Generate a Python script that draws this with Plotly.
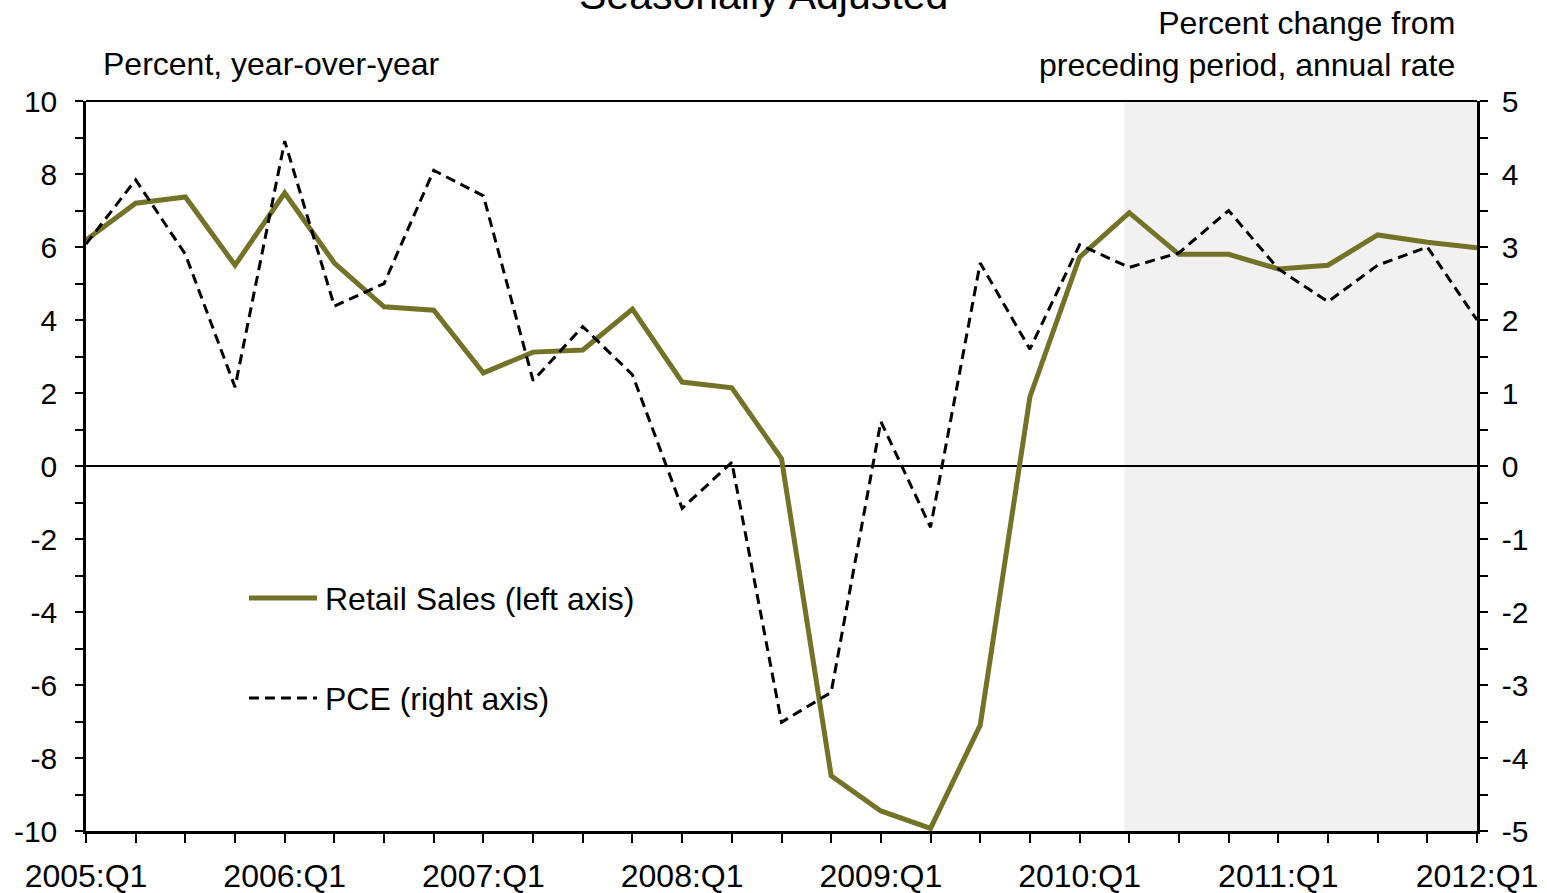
import plotly.graph_objects as go

quarters = [f"{y}:Q{q}" for y in range(2005, 2012) for q in range(1, 5)] + ["2012:Q1"]

retail_sales = [6.19, 7.20, 7.37, 5.50, 7.48, 5.56, 4.36, 4.27,
                2.55, 3.12, 3.18, 4.30, 2.30, 2.14, 0.20, -8.49,
                -9.45, -9.93, -7.10, 1.89, 5.72, 6.94, 5.80, 5.80,
                5.40, 5.50, 6.33, 6.13, 5.98]

pce = [3.04, 3.92, 2.90, 1.08, 4.45, 2.19, 2.50, 4.05,
       3.70, 1.17, 1.91, 1.25, -0.58, 0.05, -3.51, -3.10,
       0.61, -0.84, 2.78, 1.60, 3.03, 2.72, 2.92, 3.50,
       2.70, 2.25, 2.75, 3.00, 2.00]

x_ticktext = [q if q.endswith("Q1") else "" for q in quarters]
left_ticks = [-10, -8, -6, -4, -2, 0, 2, 4, 6, 8, 10]
left_ticktext = ["-10", "-8", "-6", "-4", "-2", "0", "2", "4", "6", "8", "10"]
right_ticks = [-5, -4, -3, -2, -1, 0, 1, 2, 3, 4, 5]
right_ticktext = ["-5", "-4", "-3", "-2", "-1", "0", "1", "2", "3", "4", "5"]

OLIVE = "#737327"
FONT = "Liberation Sans, Arial, sans-serif"

fig = go.Figure()

fig.add_trace(go.Scatter(x=quarters, y=retail_sales, mode="lines",
                         name="Retail Sales (left axis)",
                         line=dict(color=OLIVE, width=5),
                         showlegend=False, yaxis="y"))
fig.add_trace(go.Scatter(x=quarters, y=pce, mode="lines",
                         name="PCE (right axis)",
                         line=dict(color="black", width=3, dash="10px,6px"),
                         showlegend=False, yaxis="y2"))

# shaded projection area
fig.add_shape(type="rect", xref="x", yref="paper", x0=20.9, x1=28, y0=0, y1=1,
              fillcolor="#f1f1f1", line=dict(width=0), layer="below")
# zero line
fig.add_shape(type="line", xref="paper", yref="y", x0=0, x1=1, y0=0, y1=0,
              line=dict(color="black", width=2), layer="below")
# top frame line
fig.add_shape(type="line", xref="paper", yref="paper", x0=0, x1=1, y0=1, y1=1,
              line=dict(color="black", width=2))

W0, W1 = 86, 1477
H0, H1 = 101, 831
def px(x):
    return (x - W0) / (W1 - W0)
def py(y):
    return (H1 - y) / (H1 - H0)

# legend (manual)
fig.add_shape(type="line", xref="paper", yref="paper",
              x0=px(249), x1=px(317), y0=py(598), y1=py(598),
              line=dict(color=OLIVE, width=5))
fig.add_shape(type="line", xref="paper", yref="paper",
              x0=px(249), x1=px(317), y0=py(698), y1=py(698),
              line=dict(color="black", width=3, dash="10px,6px"))
fig.add_annotation(text="Retail Sales (left axis)", xref="paper", yref="paper",
                   x=px(323), y=py(599), xanchor="left", yanchor="middle",
                   showarrow=False, font=dict(size=32, color="black", family=FONT))
fig.add_annotation(text="PCE (right axis)", xref="paper", yref="paper",
                   x=px(323), y=py(699), xanchor="left", yanchor="middle",
                   showarrow=False, font=dict(size=32, color="black", family=FONT))

# axis titles
fig.add_annotation(text="Percent, year-over-year", xref="paper", yref="paper",
                   x=px(101), y=py(64), xanchor="left", yanchor="middle",
                   showarrow=False, font=dict(size=32, color="black", family=FONT))
fig.add_annotation(text="Percent change from<br>preceding period, annual rate",
                   xref="paper", yref="paper", align="right",
                   x=px(1457), y=py(44), xanchor="right", yanchor="middle",
                   showarrow=False, font=dict(size=32, color="black", family=FONT))
# chart title (partly cut off at top, as in the reference)
fig.add_annotation(text="Seasonally Adjusted", xref="paper", yref="paper",
                   x=px(763), y=py(-5), xanchor="center", yanchor="middle",
                   showarrow=False, font=dict(size=41, color="black", family=FONT))

fig.update_layout(
    width=1547, height=893,
    margin=dict(l=W0, r=1547 - W1, t=H0, b=893 - H1, pad=0, autoexpand=False),
    paper_bgcolor="white", plot_bgcolor="white",
    font=dict(family=FONT, size=31, color="black"),
    showlegend=False,
    xaxis=dict(type="category", range=[0, 28], tickmode="array",
               tickvals=quarters, ticktext=x_ticktext, automargin=False,
               ticks="outside", ticklen=9, tickwidth=2, tickcolor="black",
               showline=True, linecolor="black", linewidth=3,
               showgrid=False, zeroline=False,
               tickfont=dict(size=32), ticklabelstandoff=6),
    yaxis=dict(range=[-10, 10], tickmode="array", tickvals=left_ticks,
               ticktext=left_ticktext, automargin=False,
               ticks="outside", ticklen=8, tickwidth=2, tickcolor="black",
               minor=dict(dtick=1, ticks="outside", ticklen=8, tickwidth=2,
                          tickcolor="black", showgrid=False),
               showline=True, linecolor="black", linewidth=2.5,
               showgrid=False, zeroline=False,
               tickfont=dict(size=30), ticklabelstandoff=12),
    yaxis2=dict(range=[-5, 5], overlaying="y", side="right",
                tickmode="array", tickvals=right_ticks,
                ticktext=right_ticktext, automargin=False,
                ticks="outside", ticklen=8, tickwidth=2, tickcolor="black",
                minor=dict(dtick=0.5, ticks="outside", ticklen=8, tickwidth=2,
                           tickcolor="black", showgrid=False),
                showline=True, linecolor="black", linewidth=2.5,
                showgrid=False, zeroline=False,
                tickfont=dict(size=30), ticklabelstandoff=8),
)

fig.write_html("out.html",
               config={"displayModeBar": False},
               post_script="document.body.style.margin='0';"
                           "document.body.style.overflow='hidden';")
